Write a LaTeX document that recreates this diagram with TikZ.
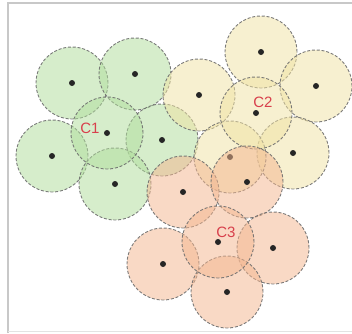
\documentclass[tikz,border=0pt]{standalone}
\usepackage{fontspec}
\newfontfamily\labelfont{Liberation Sans}
\usepackage{tikz}

\definecolor{cellgreen}{HTML}{B0DD9C}
\definecolor{cellyellow}{HTML}{F0E2A4}
\definecolor{cellorange}{HTML}{F3B690}
\definecolor{cellline}{HTML}{6E6E6E}
\definecolor{labelred}{HTML}{D8404C}
\definecolor{framegray}{HTML}{C8C8C8}

\begin{document}
\begin{tikzpicture}[
  x=1pt, y=-1pt,
  cell/.style={circle, minimum size=72pt, inner sep=0pt, draw=cellline, line width=0.9pt,
    dash pattern=on 3pt off 1.8pt, fill opacity=0.52, draw opacity=0.9},
  green/.style={cell, fill=cellgreen},
  yellow/.style={cell, fill=cellyellow},
  orange/.style={cell, fill=cellorange},
  dot/.style={circle, fill=black!85, minimum size=6pt, inner sep=0pt},
  tag/.style={text=labelred, font=\labelfont\fontsize{15}{15}\selectfont}
]
\useasboundingbox (0,0) rectangle (352,333);
\draw[framegray, line width=1.4pt] (8,333) -- (8,3) -- (352,3);
\draw[framegray!50, line width=0.8pt] (8,331.5) -- (352,331.5);

% cluster C1
\node[green] (g1) at (72,83) {};
\node[green] (g2) at (135,74) {};
\node[green] (g3) at (52,156) {};
\node[green] (g4) at (162,140) {};
\node[green] (g5) at (115,184) {};
\node[green] (c1) at (107,133) {};
\foreach \n in {g1,g2,g3,g4,g5,c1} \node[dot] at (\n) {};
\node[tag] (l1) at (90,128) {C1};

% cluster C2
\node[yellow] (y1) at (261,52) {};
\node[yellow] (y2) at (316,86) {};
\node[yellow] (y3) at (199,95) {};
\node[yellow] (y4) at (293,153) {};
\node[yellow] (y5) at (230,157) {};
\node[yellow] (c2) at (256,113) {};
\foreach \n in {y1,y2,y3,y4,y5,c2} \node[dot] at (\n) {};
\node[tag] (l2) at (263,102) {C2};

% cluster C3
\node[orange] (o1) at (183,192) {};
\node[orange] (o2) at (247,182) {};
\node[orange] (o3) at (163,264) {};
\node[orange] (o4) at (273,248) {};
\node[orange] (o5) at (227,292) {};
\node[orange] (c3) at (218,242) {};
\foreach \n in {o1,o2,o3,o4,o5,c3} \node[dot] at (\n) {};
\node[tag] (l3) at (226,232) {C3};
\end{tikzpicture}
\end{document}
